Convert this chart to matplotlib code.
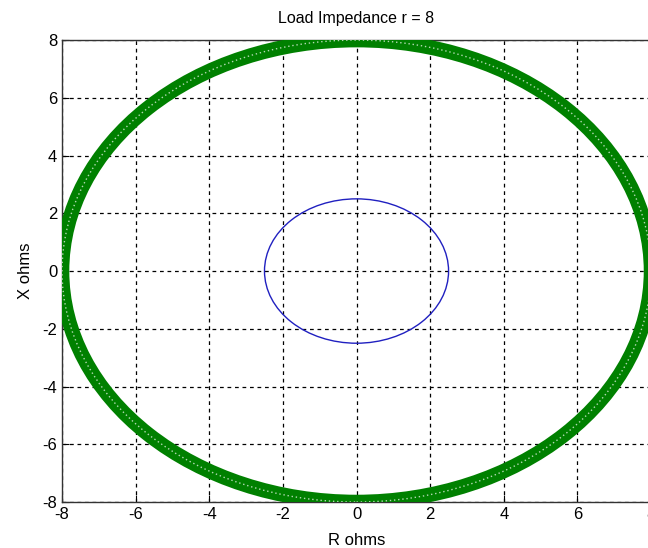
import matplotlib
matplotlib.use('Agg')

import matplotlib.pyplot as plt
from matplotlib.patches import Circle

# -----------------------------
# Data
# -----------------------------

title_text = 'Load Impedance r = 8'
load_radius = 8.0
source_radius = 2.5
centre = (0.0, 0.0)
x_ticks = [-8, -6, -4, -2, 0, 2, 4, 6, 8]
y_ticks = [-8, -6, -4, -2, 0, 2, 4, 6, 8]

plt.rcParams['font.family'] = ['Liberation Sans', 'DejaVu Sans']
plt.rcParams['axes.unicode_minus'] = False

fig = plt.figure(figsize=(6.48, 5.48), dpi=100)
ax = fig.add_axes([0.0957, 0.0839, 0.909, 0.843])

ax.set_xlim(x_ticks[0], x_ticks[-1])
ax.set_ylim(y_ticks[0], y_ticks[-1])
ax.set_xticks(x_ticks)
ax.set_yticks(y_ticks)

ax.grid(True, color='black', linestyle=(0, (3, 3)), linewidth=0.9)
ax.set_axisbelow(True)

# green ring of overlapping markers
ring = Circle(centre, load_radius, fill=False, edgecolor='#008000',
              linewidth=10.5, zorder=3)
ax.add_patch(ring)
speckle = Circle(centre, load_radius, fill=False, edgecolor='#e0f0e0',
                 linewidth=1.0, linestyle=(0, (1, 2)), alpha=0.8, zorder=4)
ax.add_patch(speckle)

# blue circle
inner = Circle(centre, source_radius, fill=False, edgecolor='#2020c0',
               linewidth=1.0, zorder=3)
ax.add_patch(inner)

ax.tick_params(direction='in', length=5, labelsize=12, colors='black')
for s in ax.spines.values():
    s.set_color('#333333')
    s.set_linewidth(1.0)

ax.set_title(title_text, fontsize=11.5, pad=12)
ax.set_xlabel('R ohms', fontsize=12, labelpad=8)
ax.set_ylabel('X ohms', fontsize=12, labelpad=7)

fig.savefig('out.png', dpi=100)
plt.close(fig)
